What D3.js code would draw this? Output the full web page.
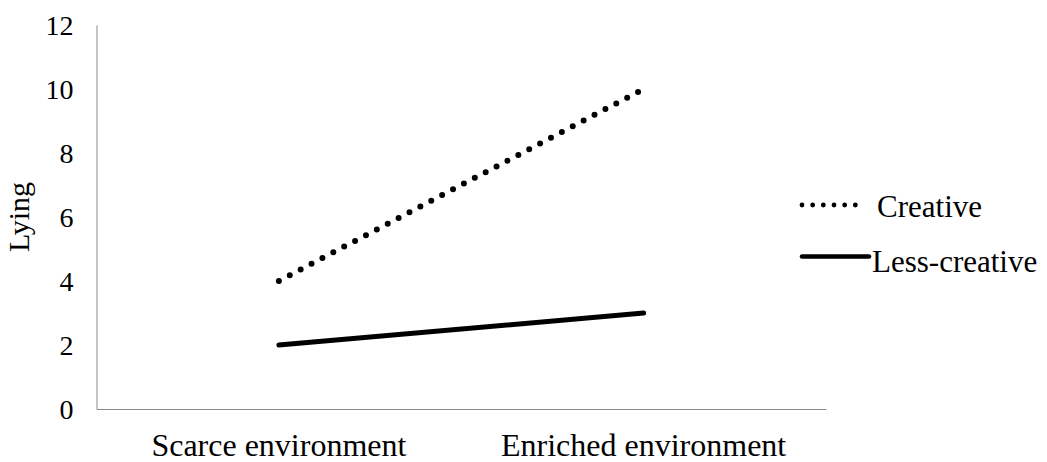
<!DOCTYPE html>
<html><head><meta charset="utf-8">
<script src="https://cdn.jsdelivr.net/npm/d3@7"></script>
<style>body{margin:0;background:#fff}svg{display:block}svg text{font-family:"Liberation Serif","Times New Roman",serif !important;fill:#000}</style>
</head><body><svg id="c" width="1047" height="462"></svg>
<script>
const categories = ["Scarce environment", "Enriched environment"];
const seriesNames = ["Creative", "Less-creative"];
const creative = [4, 10];
const lessCreative = [2, 3];
const yTicks = [0, 2, 4, 6, 8, 10, 12];
const yLabel = "Lying";

const FONT = "Liberation Serif, Times New Roman, serif";
const svg = d3.select("#c").attr("font-family", FONT);
const m = {left: 96.5, right: 826, top: 25, bottom: 409};
const x = d3.scaleBand().domain(categories).range([m.left, m.right]);
const y = d3.scaleLinear().domain([0, 12]).range([m.bottom, m.top]);
const axisColor = "#898989";

// axes
const yAxis = svg.append("g").attr("transform", `translate(${m.left},0)`)
  .call(d3.axisLeft(y).tickValues(yTicks).tickSize(0).tickPadding(23));
yAxis.attr("font-family", FONT).attr("font-size", 28);
yAxis.select(".domain").attr("stroke", axisColor);
yAxis.selectAll("text").attr("fill", "#000").attr("dy", "0.34em");

const xAxis = svg.append("g").attr("transform", `translate(0,${m.bottom})`)
  .call(d3.axisBottom(x).tickSize(0).tickPadding(24));
xAxis.attr("font-family", FONT).attr("font-size", 32);
xAxis.select(".domain").attr("stroke", axisColor);
xAxis.selectAll("text").attr("fill", "#000");

svg.append("text").attr("transform", `translate(29,${(m.top + m.bottom) / 2}) rotate(-90)`)
  .attr("text-anchor", "middle").attr("font-family", FONT).attr("font-size", 30).text(yLabel);

const line = d3.line().x((d, i) => x(categories[i]) + x.bandwidth() / 2).y(d => y(d));
const styles = [
  {w: 6, dash: "0 12.3", lw: 4.8, ldash: "0 10.67"},
  {w: 5, dash: null, lw: 4.6, ldash: null}
];
[creative, lessCreative].forEach((s, k) => {
  svg.append("path").datum(s).attr("d", line).attr("fill", "none").attr("stroke", "#000")
    .attr("stroke-width", styles[k].w).attr("stroke-linecap", "round")
    .attr("stroke-dasharray", styles[k].dash);
});

// legend
const leg = svg.append("g").attr("font-family", FONT).attr("font-size", 31);
const legLineY = [205, 256.5];
const legTextY = [217, 272];
const legTextX = [877, 872];
const legX1 = [802, 802];
const legX2 = [866, 869];
seriesNames.forEach((n, k) => {
  leg.append("line").attr("x1", legX1[k]).attr("x2", legX2[k]).attr("y1", legLineY[k]).attr("y2", legLineY[k])
    .attr("stroke", "#000").attr("stroke-width", styles[k].lw)
    .attr("stroke-linecap", "round").attr("stroke-dasharray", styles[k].ldash);
  leg.append("text").attr("x", legTextX[k]).attr("y", legTextY[k]).text(n);
});
</script></body></html>
